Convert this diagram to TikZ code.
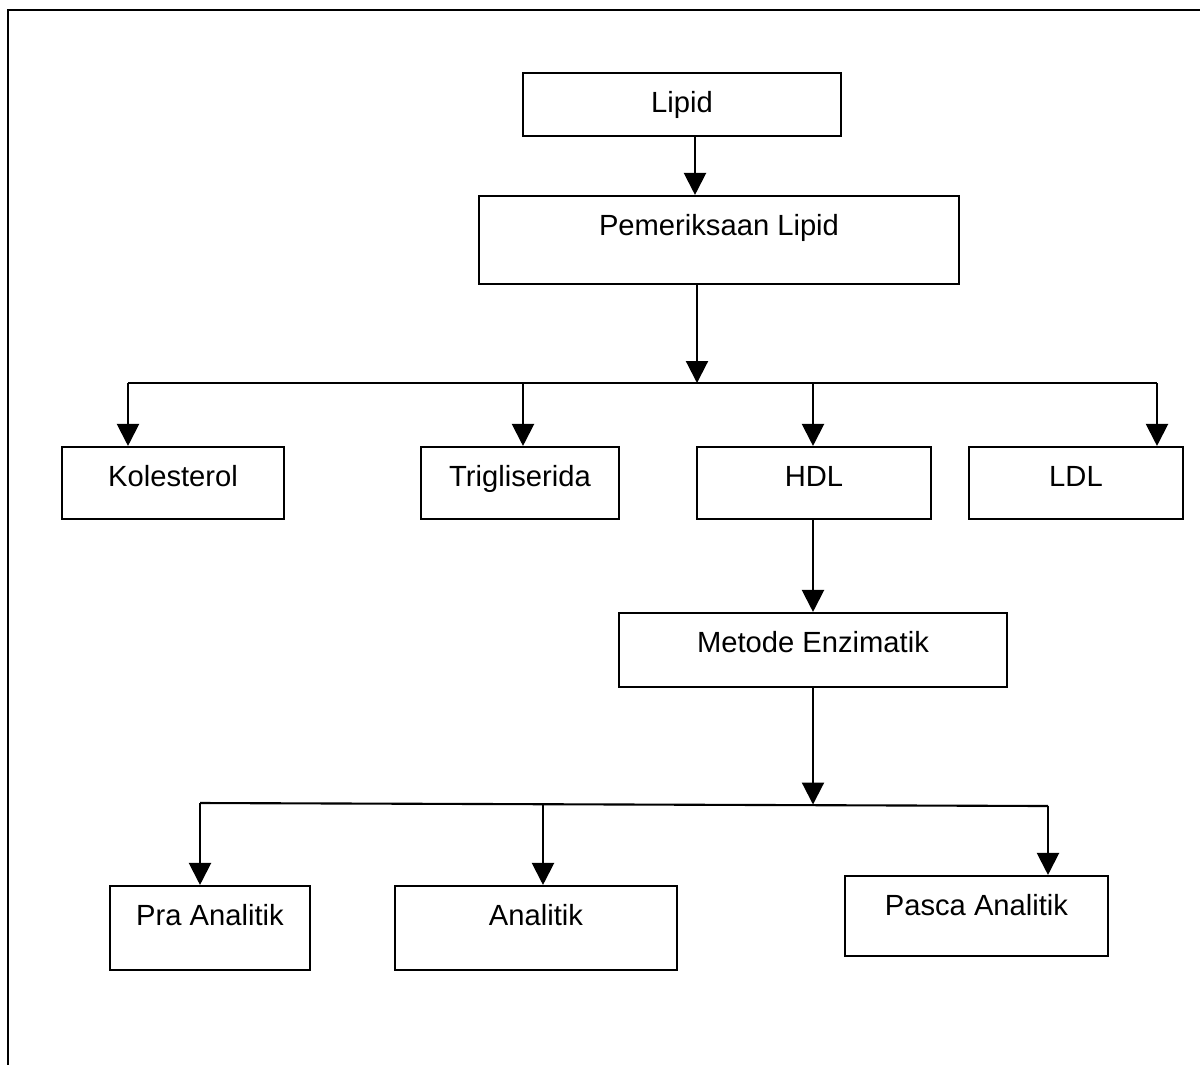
\documentclass[tikz,border=0pt]{standalone}
\usepackage{fontspec}
\setmainfont{Liberation Sans}
\usetikzlibrary{arrows.meta}

\tikzset{
  box/.style={draw, line width=0.6pt, inner ysep=0pt, text height=3.9mm,
    font=\fontsize{8.3}{10}\selectfont},
  arr/.style={line width=0.6pt, -{Triangle[length=2.2mm, width=2.2mm]}},
  bus/.style={line width=0.6pt},
  frame/.style={line width=0.8pt}
}

\begin{document}
\begin{tikzpicture}

\useasboundingbox (0,0) rectangle (12,-10.64);
\clip (0,0) rectangle (12,-10.64);

% outer frame
\draw[frame] (0.08,-0.10) rectangle (12.4,-11);

% top
\node[box, minimum width=3.18cm, text depth=2.4mm] (lipid) at (6.82,-1.045) {Lipid};
\node[box, minimum width=4.80cm, text depth=4.9mm] (pemeriksaan) at (7.19,-2.40) {Pemeriksaan Lipid};

% lipid types
\node[box, minimum width=2.22cm, text depth=3.3mm] (kolesterol) at (1.73,-4.83) {Kolesterol};
\node[box, minimum width=1.98cm, text depth=3.3mm] (trigliserida) at (5.20,-4.83) {Trigliserida};
\node[box, minimum width=2.34cm, text depth=3.3mm] (hdl) at (8.14,-4.83) {HDL};
\node[box, minimum width=2.14cm, text depth=3.3mm] (ldl) at (10.76,-4.83) {LDL};

% method
\node[box, minimum width=3.88cm, text depth=3.5mm] (metode) at (8.13,-6.50) {Metode Enzimatik};

% stages
\node[box, minimum width=2.00cm, text depth=4.5mm] (pra) at (2.10,-9.28) {Pra Analitik};
\node[box, minimum width=2.82cm, text depth=4.5mm] (analitik) at (5.36,-9.28) {Analitik};
\node[box, minimum width=2.63cm, text depth=4.1mm] (pasca) at (9.765,-9.16) {Pasca Analitik};

% first branch
\coordinate (bus1) at (6.97,-3.83);
\coordinate (bus1L) at (1.28,-3.83);
\coordinate (bus1R) at (11.57,-3.83);

\draw[arr] (lipid.south -| 6.95,0) -- (pemeriksaan.north -| 6.95,0);
\draw[arr] (pemeriksaan.south -| bus1) -- (bus1);
\draw[bus] (bus1L) -- (bus1R);
\draw[arr] (bus1L) -- (bus1L |- kolesterol.north);
\draw[arr] (5.23,-3.83) -- (trigliserida.north -| 5.23,0);
\draw[arr] (8.13,-3.83) -- (hdl.north -| 8.13,0);
\draw[arr] (bus1R) -- (bus1R |- ldl.north);

% second branch
\coordinate (bus2) at (8.13,-8.045);
\coordinate (bus2L) at (2.00,-8.03);
\coordinate (bus2R) at (10.48,-8.06);

\draw[arr] (hdl.south -| metode) -- (metode.north);
\draw[arr] (metode.south) -- (bus2);
\draw[bus] (bus2L) -- (bus2R);
\draw[arr] (bus2L) -- (bus2L |- pra.north);
\draw[arr] (5.43,-8.04) -- (analitik.north -| 5.43,0);
\draw[arr] (bus2R) -- (bus2R |- pasca.north);

\end{tikzpicture}
\end{document}
